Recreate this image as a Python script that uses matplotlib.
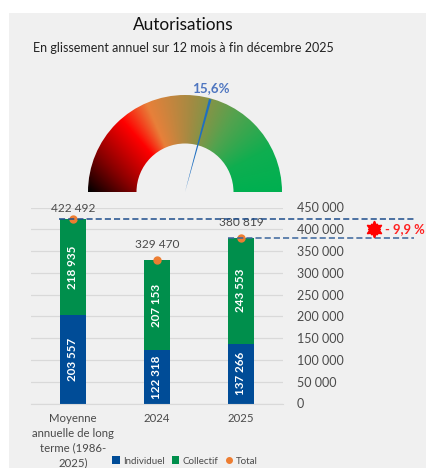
import numpy as np
import matplotlib
matplotlib.use('Agg')
import matplotlib.pyplot as plt
from matplotlib.colors import LinearSegmentedColormap
from matplotlib.patches import Wedge, Polygon

W, H = 426, 468
BG = '#f0f0f0'

categories = ['Moyenne\nannuelle de long\nterme (1986-\n2025)', '2024', '2025']
individuel = [203557, 122318, 137266]
collectif = [218935, 207153, 243553]
total = [422492, 329470, 380819]
yticks = [0, 50000, 100000, 150000, 200000, 250000, 300000, 350000, 400000, 450000]
gauge_value = 15.6


def fr(v):
    return f'{v:,}'.replace(',', ' ')


plt.rcParams['font.family'] = ['Lato', 'DejaVu Sans']
fig = plt.figure(figsize=(W / 100, H / 100), dpi=100, facecolor='white')
fig.add_artist(plt.Rectangle((9 / W, 0), 1, 1 - 13 / H, transform=fig.transFigure, fc=BG, ec='none', zorder=-5))

# bars
ax = fig.add_axes([31 / W, 1 - 403.5 / H, 252 / W, 196 / H], facecolor='none')
x = np.arange(3)
ax.bar(x, individuel, width=0.32, color='#004c97', label='Individuel', zorder=2)
ax.bar(x, collectif, width=0.32, bottom=individuel, color='#008f4c', label='Collectif', zorder=2)
ax.plot(x, total, 'o', ms=5, color='#ed7d31', label='Total', zorder=4)
ax.set_xlim(-0.5, 2.5)
ax.set_ylim(0, 450000)
ax.set_yticks(yticks)
ax.set_yticklabels([fr(v) for v in yticks], fontsize=9, color='#4a4a4a')
ax.yaxis.tick_right()
ax.set_xticks(x)
ax.set_xticklabels(categories, fontsize=8.2, color='#4a4a4a', linespacing=1.42)
ax.tick_params(length=0, pad=10)
ax.tick_params(axis='x', pad=7)
ax.grid(axis='y', color='#d9d9d9', lw=0.9, zorder=1)
for s in ax.spines.values():
    s.set_visible(False)
ax.spines['bottom'].set_visible(True)
ax.spines['bottom'].set_color('#d9d9d9')

for i in x:
    ax.text(i, individuel[i] / 2, fr(individuel[i]), rotation=90, ha='center', va='center',
            color='white', fontsize=8.4, fontweight='bold', zorder=5)
    ax.text(i, individuel[i] + collectif[i] / 2, fr(collectif[i]), rotation=90, ha='center', va='center',
            color='white', fontsize=8.4, fontweight='bold', zorder=5)
    ax.annotate(fr(total[i]), (i, total[i]), xytext=(0, 4 if i == 0 else 7), textcoords='offset points',
                ha='center', va='bottom', fontsize=8.6, color='#4a4a4a', zorder=5)

# overlay in pixel coords for the gauge, title and annotations
ov = fig.add_axes([0, 0, 1, 1], facecolor='none')
ov.axis('off')

ov.text(183, 25, 'Autorisations', ha='center', va='center', fontsize=12.4, color='#111111')
ov.text(183, 48, 'En glissement annuel sur 12 mois à fin décembre 2025', ha='center', va='center',
        fontsize=9, color='#222222')

# gauge
cx, cy, R, r = 185, 192, 97, 48.5
gauge_cmap = LinearSegmentedColormap.from_list('gauge', [
    (0.0, '#000000'), (0.14, '#8a0000'), (0.27, '#ff0000'), (0.37, '#e8803a'),
    (0.52, '#a58a42'), (0.68, '#55a24e'), (0.85, '#0fae50'), (1.0, '#00b050')])
xx, yy = np.meshgrid(np.linspace(cx - R, cx + R, 400), np.linspace(cy - R, cy, 200))
ang = np.arctan2(cy - yy, xx - cx)
t = 1 - ang / np.pi
# inner edge of the dark end is lighter than the outer edge
rad = np.clip((R - np.hypot(xx - cx, yy - cy)) / (R - r), 0, 1)
t = t + 0.14 * rad * np.clip(1 - t / 0.27, 0, 1)
im = ov.imshow(t, cmap=gauge_cmap, vmin=0, vmax=1, extent=(cx - R, cx + R, cy, cy - R),
               aspect='auto', zorder=1, interpolation='bilinear')
ov.set_xlim(0, W)
ov.set_ylim(H, 0)
clip = Wedge((cx, cy), R, 180, 360, width=R - r, transform=ov.transData, fc='none', ec='none')
ov.add_patch(clip)
im.set_clip_path(clip)
ov.add_patch(Polygon([(cx, cy), (209, 99), (211.5, 99.5)], fc='#1f6fc0', ec='none', zorder=2))
ov.text(211, 88, f'{gauge_value:.1f}%'.replace('.', ','), ha='center', va='center', fontsize=9.6,
        fontweight='bold', color='#4f76c0')

# variation lines
to_ov = lambda v: ax.transData.transform((0, v))[1]
y1 = H - to_ov(total[0])
y2 = H - to_ov(total[2])
ov.plot([59, 414], [y1, y1], lw=1.1, color='#1f4e8c', dashes=(4, 2), zorder=6)
ov.plot([228, 414], [y2, y2], lw=1.1, color='#3a659c', dashes=(4, 2), zorder=6)
ov.plot([374], [229], marker=(6, 1, 0), ms=12, color='#ff0000', mec='#ff0000', zorder=7)
ov.plot([374], [229], marker=(6, 1, 30), ms=9, color='#ff0000', mec='#ff0000', zorder=7)
ov.text(385, 229, '- 9,9 %', ha='left', va='center', fontsize=9.4, fontweight='bold', color='#ff2020', zorder=7)

# legend
h, l = ax.get_legend_handles_labels()
order = [l.index(n) for n in ['Individuel', 'Collectif', 'Total']]
fig.legend([h[i] for i in order], [l[i] for i in order], ncol=3, loc='center',
           bbox_to_anchor=(185 / W, 1 - 461 / H), frameon=False, fontsize=7, labelcolor='#4a4a4a',
           handlelength=0.8, handleheight=0.8, handletextpad=0.3, columnspacing=0.7, borderpad=0,
           markerscale=0.8)

fig.savefig('out.png', dpi=100)
